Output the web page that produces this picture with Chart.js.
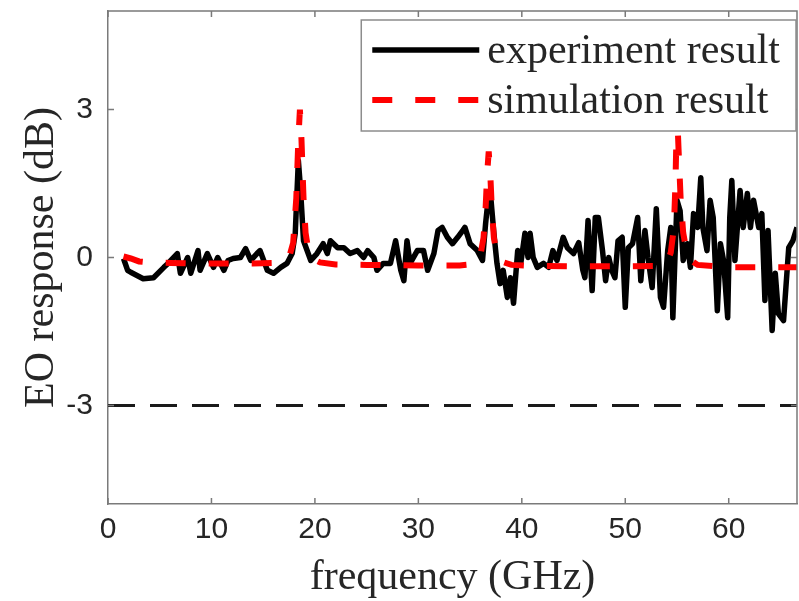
<!DOCTYPE html>
<html>
<head>
<meta charset="utf-8">
<script src="https://cdn.jsdelivr.net/npm/chart.js@4.4.1/dist/chart.umd.min.js"></script>
<style>
html,body{margin:0;padding:0;background:#fff;}
#wrap{width:799px;height:601px;position:relative;}
</style>
</head>
<body>
<div id="wrap"><canvas id="c" width="799" height="601"></canvas></div>
<script>
// ---- data ----
const xTicks = [0, 10, 20, 30, 40, 50, 60];
const yTicks = [-3, 0, 3];
const xTitle = 'frequency (GHz)';
const yTitle = 'EO response (dB)';
const seriesNames = ['experiment result', 'simulation result'];

const expFreq = [1.5,1.9,2.2,3.4,4.4,5.4,5.8,6.7,7.0,7.7,8.0,8.7,8.9,9.6,10.2,10.6,11.2,11.6,12.1,12.8,13.3,13.8,14.4,14.7,15.4,16.0,16.7,17.3,17.8,18.1,18.4,18.6,18.9,19.6,20.2,20.8,21.2,21.5,22.2,22.8,23.4,24.1,24.7,25.1,25.7,26.0,26.6,27.3,27.8,28.3,28.6,28.9,29.2,29.9,30.5,30.9,31.5,31.9,32.3,32.8,33.3,33.8,34.3,34.5,35.0,35.7,36.2,36.5,36.8,37.0,37.3,37.6,37.9,38.2,38.6,38.9,39.2,39.6,39.9,40.3,40.6,40.8,41.1,41.5,42.1,42.6,43.0,43.4,44.0,44.4,45.0,45.5,45.9,46.1,46.4,46.8,47.1,47.4,47.8,48.1,48.4,48.7,49.0,49.3,49.7,50.0,50.3,50.7,51.2,51.5,51.9,52.2,52.6,53.0,53.4,53.7,54.1,54.4,54.6,55.0,55.3,55.6,56.0,56.3,56.6,57.0,57.3,57.5,57.9,58.2,58.5,58.9,59.2,59.5,59.9,60.1,60.3,60.6,61.1,61.4,61.8,62.1,62.4,62.9,63.2,63.5,63.8,64.2,64.5,64.8,65.3,65.8,66.2,66.6,66.8];
const expResp = [-0.02,-0.26,-0.30,-0.43,-0.41,-0.20,-0.12,0.08,-0.32,0.00,-0.32,0.14,-0.26,0.08,-0.20,0.00,-0.26,-0.06,-0.02,0.00,0.18,-0.06,0.08,0.14,-0.26,-0.32,-0.20,-0.12,0.08,0.49,1.97,1.42,0.34,-0.06,0.08,0.28,0.08,0.34,0.20,0.20,0.08,0.14,0.00,0.14,0.00,-0.26,-0.12,-0.12,0.34,-0.26,-0.47,0.34,-0.12,0.14,0.14,-0.26,0.08,0.55,0.61,0.41,0.28,0.41,0.55,0.61,0.28,0.14,-0.06,0.69,1.30,1.22,0.49,-0.12,-0.53,-0.26,-0.81,-0.41,-0.93,0.14,-0.12,0.49,0.00,0.49,0.00,-0.20,-0.12,-0.20,0.14,-0.06,0.41,0.20,0.08,0.30,-0.26,-0.41,0.75,-0.67,0.81,0.81,0.14,-0.47,0.00,-0.26,-0.41,0.34,0.41,-1.01,0.20,0.28,0.81,-0.47,0.55,0.00,-0.61,0.99,-0.81,-1.01,0.14,0.61,-1.22,1.16,0.95,-0.06,0.28,-0.20,0.89,0.61,1.62,0.61,0.14,1.16,0.81,-1.08,0.28,-0.06,-1.22,0.81,1.56,-0.06,1.36,0.61,1.30,0.61,1.16,0.61,0.89,-0.87,0.55,-1.48,-0.32,-1.14,-1.28,0.20,0.34,0.61,0.65];

const simFreq = [1.5,2.2,3.0,4.0,6.0,8.0,10.0,12.0,14.0,16.0,17.0,17.5,17.9,18.2,18.4,18.55,18.7,18.9,19.1,19.4,19.8,20.5,22.0,25.0,30.0,34.0,35.5,36.0,36.3,36.5,36.65,36.8,36.95,37.1,37.3,37.6,38.0,39.0,41.0,45.0,50.0,53.0,54.0,54.4,54.7,54.85,55.0,55.15,55.35,55.6,55.9,56.3,57.0,60.0,66.8];
const simResp = [0.02,-0.02,-0.08,-0.10,-0.11,-0.12,-0.12,-0.12,-0.12,-0.11,-0.08,0.00,0.30,1.20,2.40,3.00,2.40,1.20,0.50,0.10,-0.03,-0.10,-0.14,-0.15,-0.16,-0.16,-0.13,0.05,0.40,1.00,1.70,2.15,1.70,1.00,0.40,0.05,-0.08,-0.15,-0.17,-0.18,-0.18,-0.17,-0.12,0.10,0.60,1.50,3.00,2.20,1.20,0.50,0.15,-0.05,-0.15,-0.20,-0.20];

const refFreq = [0, 66.6];
const refResp = [-3, -3];

const xMin = 0, xMax = 66.6, yMin = -5, yMax = 5;

// ---- build ----
const toXY = (xs, ys) => xs.map((x, i) => ({x: x, y: ys[i]}));
const AXIS = '#7a7a7a';
const TXT = '#262626';

const frame = {
  id: 'frame',
  afterDatasetsDraw(chart) {
    const ctx = chart.ctx, ca = chart.chartArea;
    const xs = chart.scales.x, ys = chart.scales.y;
    ctx.save();
    ctx.strokeStyle = AXIS; ctx.lineWidth = 1.5;
    ctx.beginPath();
    ctx.moveTo(ca.left, ca.top); ctx.lineTo(ca.right, ca.top); ctx.lineTo(ca.right, ca.bottom);
    ctx.stroke();
    const tl = 6;
    ctx.beginPath();
    xTicks.forEach(v => {
      const p = xs.getPixelForValue(v);
      ctx.moveTo(p, ca.bottom); ctx.lineTo(p, ca.bottom - tl);
      ctx.moveTo(p, ca.top); ctx.lineTo(p, ca.top + tl);
    });
    yTicks.forEach(v => {
      const p = ys.getPixelForValue(v);
      ctx.moveTo(ca.left, p); ctx.lineTo(ca.left + tl, p);
      ctx.moveTo(ca.right, p); ctx.lineTo(ca.right - tl, p);
    });
    ctx.stroke();

    // legend
    ctx.font = '42px "Liberation Serif"';
    const tw = Math.max(...seriesNames.map(s => ctx.measureText(s).width));
    const boxRight = ca.right - 1;
    const boxTop = ca.top + 9;
    const textX = boxRight - 16 - tw;
    const lineEnd = textX - 8;
    const lineStart = lineEnd - 107;
    const boxLeft = lineStart - 11;
    const boxBottom = boxTop + 111;
    ctx.fillStyle = '#fff';
    ctx.fillRect(boxLeft, boxTop, boxRight - boxLeft, boxBottom - boxTop);
    ctx.strokeStyle = '#8c8c8c'; ctx.lineWidth = 1.5;
    ctx.strokeRect(boxLeft, boxTop, boxRight - boxLeft, boxBottom - boxTop);
    const rows = [boxTop + 30, boxTop + 80];
    chart.data.datasets.slice(0, 2).forEach((ds, i) => {
      ctx.strokeStyle = ds.borderColor;
      ctx.lineWidth = ds.borderWidth;
      ctx.setLineDash(ds.borderDash || []);
      ctx.lineCap = 'butt';
      ctx.beginPath();
      ctx.moveTo(lineStart, rows[i]); ctx.lineTo(lineEnd, rows[i]);
      ctx.stroke();
      ctx.setLineDash([]);
      ctx.fillStyle = TXT;
      ctx.textBaseline = 'middle';
      ctx.textAlign = 'left';
      ctx.fillText(seriesNames[i], textX, rows[i] + 2);
    });
    ctx.restore();
  }
};

new Chart(document.getElementById('c'), {
  type: 'line',
  data: {
    datasets: [
      {
        label: seriesNames[0],
        data: toXY(expFreq, expResp),
        borderColor: '#000000',
        borderWidth: 5.5,
        pointRadius: 0,
        tension: 0,
        borderJoinStyle: 'round',
        order: 1
      },
      {
        label: seriesNames[1],
        data: toXY(simFreq, simResp),
        borderColor: '#ff0000',
        borderWidth: 6,
        borderDash: [20, 23],
        pointRadius: 0,
        tension: 0,
        order: 0
      },
      {
        label: '-3 dB',
        data: toXY(refFreq, refResp),
        borderColor: '#1a1a1a',
        borderWidth: 3,
        borderDash: [27, 15],
        pointRadius: 0,
        order: 2
      }
    ]
  },
  options: {
    responsive: false,
    animation: false,
    events: [],
    layout: { padding: { top: 11, right: 2, left: 0, bottom: 0 } },
    plugins: { legend: { display: false }, tooltip: { enabled: false } },
    scales: {
      x: {
        type: 'linear', min: xMin, max: xMax,
        afterBuildTicks: s => { s.ticks = xTicks.map(v => ({value: v})); },
        afterFit: s => { s.height = 97; s.paddingLeft = 0; s.paddingRight = 0; },
        grid: { display: false, drawTicks: false },
        border: { display: true, color: AXIS, width: 1.5 },
        ticks: { color: TXT, padding: 8, maxRotation: 0, font: { family: '"Liberation Sans", Arial, sans-serif', size: 30 } },
        title: { display: true, text: xTitle, color: TXT, padding: { top: 0, bottom: 2 }, font: { family: '"Liberation Serif", "Times New Roman", serif', size: 42, lineHeight: 1.0 } }
      },
      y: {
        type: 'linear', min: yMin, max: yMax,
        afterBuildTicks: s => { s.ticks = yTicks.map(v => ({value: v})); },
        afterFit: s => { s.width = 108; s.paddingTop = 0; s.paddingBottom = 0; },
        grid: { display: false, drawTicks: false },
        border: { display: true, color: AXIS, width: 1.5 },
        ticks: { color: TXT, padding: 15, font: { family: '"Liberation Sans", Arial, sans-serif', size: 30 } },
        title: { display: true, text: yTitle, color: TXT, padding: { top: 21, bottom: 0 }, font: { family: '"Liberation Serif", "Times New Roman", serif', size: 42, lineHeight: 1.0 } }
      }
    }
  },
  plugins: [frame]
});
</script>
</body>
</html>
